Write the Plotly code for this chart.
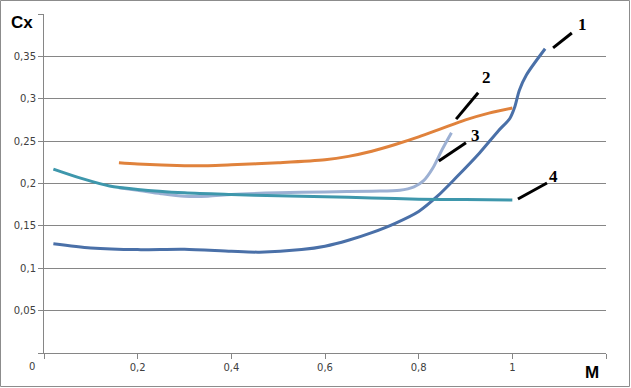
import plotly.graph_objects as go

# ---- data ----
m1 = [0.02, 0.10, 0.20, 0.30, 0.40, 0.46, 0.55, 0.60, 0.65, 0.70, 0.75, 0.80, 0.84, 0.88, 0.93, 0.97, 0.995, 1.005, 1.015, 1.03, 1.07]
cx1 = [0.129, 0.124, 0.122, 0.1225, 0.120, 0.119, 0.122, 0.126, 0.133, 0.142, 0.153, 0.167, 0.185, 0.207, 0.236, 0.262, 0.277, 0.290, 0.310, 0.328, 0.359]

m2 = [0.16, 0.20, 0.30, 0.35, 0.40, 0.50, 0.60, 0.65, 0.70, 0.75, 0.80, 0.85, 0.90, 0.95, 1.00]
cx2 = [0.2245, 0.223, 0.221, 0.221, 0.222, 0.2245, 0.228, 0.232, 0.238, 0.246, 0.255, 0.265, 0.275, 0.283, 0.289]

m3 = [0.16, 0.20, 0.25, 0.30, 0.35, 0.40, 0.50, 0.60, 0.70, 0.76, 0.79, 0.81, 0.83, 0.85, 0.87]
cx3 = [0.195, 0.192, 0.188, 0.185, 0.185, 0.187, 0.189, 0.190, 0.191, 0.192, 0.196, 0.203, 0.218, 0.240, 0.260]

m4 = [0.02, 0.08, 0.14, 0.20, 0.30, 0.40, 0.50, 0.60, 0.70, 0.80, 0.90, 1.00]
cx4 = [0.217, 0.206, 0.197, 0.193, 0.189, 0.187, 0.1855, 0.1845, 0.183, 0.1815, 0.181, 0.1805]

x_ticks = [0, 0.2, 0.4, 0.6, 0.8, 1.0, 1.2]
x_tick_labels = ["", "0,2", "0,4", "0,6", "0,8", "1", ""]
y_ticks = [0, 0.05, 0.1, 0.15, 0.2, 0.25, 0.3, 0.35, 0.4]
y_tick_labels = ["", "0,05", "0,1", "0,15", "0,2", "0,25", "0,3", "0,35", ""]

curve_names = ["1", "2", "3", "4"]

# ---- styling / annotation geometry ----
colors = ["#4A70A8", "#E0823C", "#9CB0D3", "#3E97AC"]
# leader lines: (x0, y0, x1, y1) in data units, label position
leaders = [
    ((1.087, 0.360, 1.127, 0.3776), (1.149, 0.388)),
    ((0.880, 0.276, 0.927, 0.307), (0.944, 0.3245)),
    ((0.843, 0.2265, 0.901, 0.248), (0.922, 0.257)),
    ((1.012, 0.1817, 1.074, 0.2006), (1.087, 0.2077)),
]

fig = go.Figure()
for mx, cy, col, nm in zip([m1, m2, m3, m4], [cx1, cx2, cx3, cx4], colors, curve_names):
    fig.add_trace(go.Scatter(x=mx, y=cy, mode="lines", name=nm,
                             line=dict(color=col, width=3, shape="spline", smoothing=0.8),
                             showlegend=False, hoverinfo="skip"))

shapes = []
annotations = []
for (x0, y0, x1, y1), (tx, ty), nm in zip([l[0] for l in leaders], [l[1] for l in leaders], curve_names):
    shapes.append(dict(type="line", xref="x", yref="y", x0=x0, y0=y0, x1=x1, y1=y1,
                       line=dict(color="black", width=3)))
    annotations.append(dict(x=tx, y=ty, xref="x", yref="y", text="<b>%s</b>" % nm, showarrow=False,
                            font=dict(family="Liberation Serif, Times New Roman, serif", size=17, color="black")))

# outer frame
pw, ph = 562, 339
ml, mr, mt, mb = 44, 25, 14, 35
shapes.append(dict(type="rect", xref="paper", yref="paper",
                   x0=(-ml + 0.5) / pw, x1=(pw + mr - 1.5) / pw,
                   y0=-(mb - 1.5) / ph, y1=1 + (mt - 0.5) / ph,
                   line=dict(color="#8c8c8c", width=1), layer="below"))

annotations.append(dict(x=-22 / pw, y=1 - 8 / ph, xref="paper", yref="paper", text="<b>Cx</b>",
                        showarrow=False, xanchor="center", yanchor="middle",
                        font=dict(family="Liberation Sans, Arial", size=17, color="black")))
annotations.append(dict(x=(592 - ml) / pw, y=-(372 - 353) / ph, xref="paper", yref="paper", text="<b>M</b>",
                        showarrow=False, xanchor="center", yanchor="middle",
                        font=dict(family="Liberation Sans Narrow, Arial Narrow, Liberation Sans", size=17, color="black")))
annotations.append(dict(x=(32 - ml) / pw, y=-(366 - 353) / ph, xref="paper", yref="paper", text="0",
                        showarrow=False, xanchor="center", yanchor="middle",
                        font=dict(family="DejaVu Sans, Verdana", size=10, color="#404040")))

fig.update_layout(
    width=631, height=388,
    margin=dict(l=ml, r=mr, t=mt, b=mb, autoexpand=False),
    paper_bgcolor="white", plot_bgcolor="white",
    shapes=shapes, annotations=annotations,
    xaxis=dict(range=[0, 1.2], tickvals=x_ticks, ticktext=x_tick_labels,
               showgrid=False, zeroline=False, showline=True, linecolor="#868686", linewidth=1,
               ticks="outside", ticklen=5, tickcolor="#868686",
               tickfont=dict(family="DejaVu Sans, Verdana", size=10, color="#404040")),
    yaxis=dict(range=[0, 0.4], tickvals=y_ticks, ticktext=y_tick_labels,
               showgrid=True, gridcolor="#868686", gridwidth=1, zeroline=False,
               showline=True, linecolor="#868686", linewidth=1,
               ticks="outside", ticklen=5, tickcolor="#868686",
               tickfont=dict(family="DejaVu Sans, Verdana", size=10, color="#404040")),
)

fig.write_html("out.html", config={"displayModeBar": False, "staticPlot": True},
               post_script="document.body.style.margin='0';document.body.style.overflow='hidden';")
